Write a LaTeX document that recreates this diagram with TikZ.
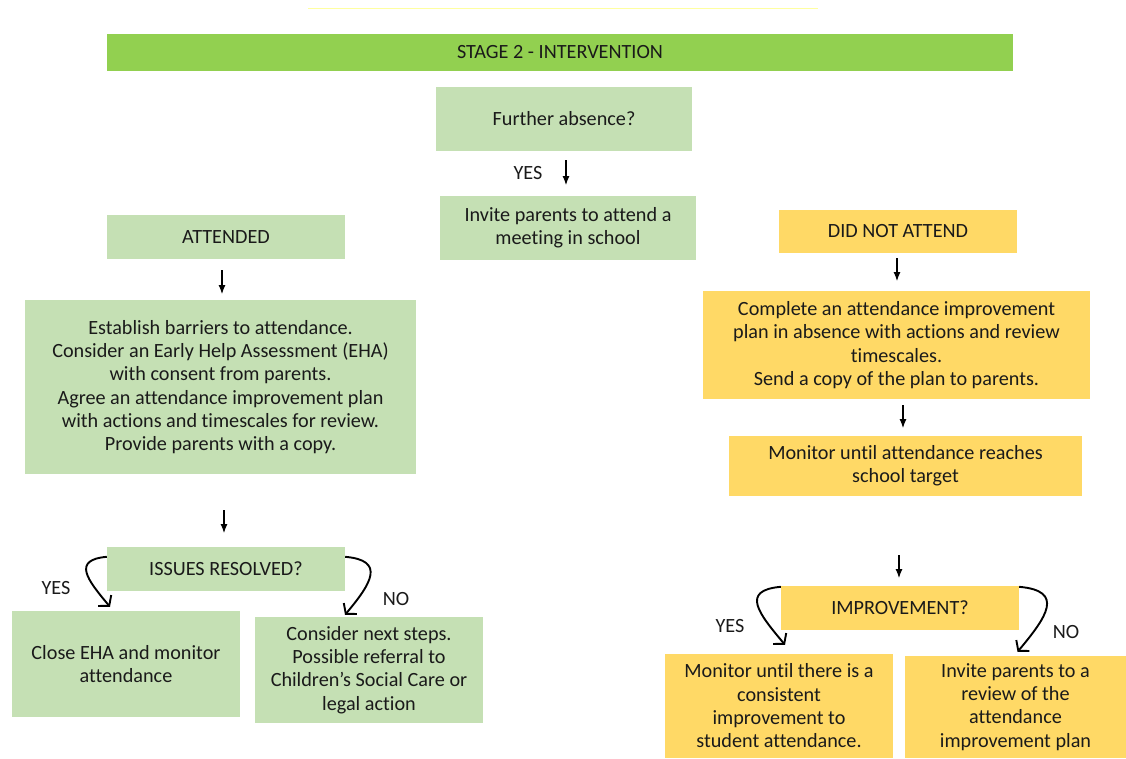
\documentclass[tikz,border=0pt]{standalone}
\usepackage{fontspec}
\setmainfont{Carlito}[Ligatures=NoCommon]
\usepackage{tikz}
\usetikzlibrary{arrows.meta,positioning}
\definecolor{stagegreen}{HTML}{92D050}
\definecolor{lightgreen}{HTML}{C5E0B4}
\definecolor{lightyellow}{HTML}{FFD966}
\definecolor{topline}{HTML}{FFFFA0}
\definecolor{txt}{HTML}{1A1A1A}

\begin{document}
\begin{tikzpicture}[x=1pt, y=-1pt,
  every node/.style={font=\fontsize{20.2}{23.3}\selectfont, text=txt},
  gbox/.style={fill=lightgreen, align=center, inner sep=0pt},
  ybox/.style={fill=lightyellow, align=center, inner sep=0pt},
  down/.style={-{Latex[length=9pt,width=7pt]}, line width=1.1pt},
  curvy/.style={-{Straight Barb[length=7pt,width=17pt]}, line width=1.9pt, looseness=1.8}]
  \useasboundingbox (0,0) rectangle (1126,758);
  \draw[topline, line width=1pt] (308,8) -- (818,8);
  \node[fill=stagegreen, minimum width=906pt, minimum height=37pt, inner sep=0pt] (stage) at (560,52.5) {STAGE 2 - INTERVENTION};

  % middle column
  \node[gbox, minimum width=256pt, minimum height=64pt] (further) at (564,119) {Further absence?};
  \node (yesmid) at (528,173) {YES};
  \coordinate (a1s) at (566,160);
  \coordinate (a1e) at (566,185);
  \draw[down] (a1s) -- (a1e);
  \node[gbox, minimum width=256pt, minimum height=64pt] (invite) at (568,228) {Invite parents to attend a\\meeting in school};

  % attended
  \node[gbox, minimum width=238pt, minimum height=44pt] (attended) at (226,237) {ATTENDED};
  \coordinate (a2s) at (222,270);
  \coordinate (a2e) at (222,294);
  \draw[down] (a2s) -- (a2e);
  \node[gbox, minimum width=391pt, minimum height=174pt] (establish) at (220.5,387) {Establish barriers to attendance.\\Consider an Early Help Assessment (EHA)\\with consent from parents.\\Agree an attendance improvement plan\\with actions and timescales for review.\\Provide parents with a copy.};
  \coordinate (a3s) at (224,510);
  \coordinate (a3e) at (224,533);
  \draw[down] (a3s) -- (a3e);
  \node[gbox, minimum width=238pt, minimum height=44pt] (issues) at (226,569) {ISSUES RESOLVED?};
  \node[gbox, minimum width=228pt, minimum height=106pt] (close) at (126,664) {Close EHA and monitor\\attendance};
  \node[gbox, minimum width=228pt, minimum height=106pt] (consider) at (369,670) {Consider next steps.\\Possible referral to\\Children’s Social Care or\\legal action};
  \draw[curvy] ([yshift=-10pt]issues.north west) to[out=185,in=130] ([xshift=-16pt,yshift=4pt]close.north);
  \draw[curvy] ([yshift=-10pt]issues.north east) to[out=-5,in=50] ([xshift=-24pt,yshift=2pt]consider.north);
  \node (yesleft) at (56,588) {YES};
  \node (noleft) at (396,599) {NO};

  % did not attend
  \node[ybox, minimum width=238pt, minimum height=43pt] (notattend) at (898,231.5) {DID NOT ATTEND};
  \coordinate (a4s) at (897,258);
  \coordinate (a4e) at (897,281);
  \draw[down] (a4s) -- (a4e);
  \node[ybox, minimum width=387pt, minimum height=108pt] (complete) at (896.5,345) {Complete an attendance improvement\\plan in absence with actions and review\\timescales.\\Send a copy of the plan to parents.};
  \coordinate (a5s) at (903,405);
  \coordinate (a5e) at (903,428);
  \draw[down] (a5s) -- (a5e);
  \node[ybox, minimum width=353pt, minimum height=60pt] (monitor) at (905.5,466) {Monitor until attendance reaches\\school target};
  \coordinate (a6s) at (899,555);
  \coordinate (a6e) at (899,578);
  \draw[down] (a6s) -- (a6e);
  \node[ybox, minimum width=238pt, minimum height=44pt] (improve) at (900,608) {IMPROVEMENT?};
  \node[ybox, minimum width=228pt, minimum height=104pt] (consistent) at (779,706) {Monitor until there is a\\consistent\\improvement to\\student attendance.};
  \node[ybox, minimum width=221pt, minimum height=102pt] (review) at (1015.5,707) {Invite parents to a\\review of the\\attendance\\improvement plan};
  \draw[curvy] ([yshift=-1pt]improve.north west) to[out=185,in=130] ([xshift=6pt,yshift=9pt]consistent.north);
  \draw[curvy] ([yshift=-1pt]improve.north east) to[out=-5,in=50] ([xshift=2pt,yshift=4pt]review.north);
  \node (yesright) at (730,626) {YES};
  \node (noright) at (1066,632) {NO};
\end{tikzpicture}
\end{document}
